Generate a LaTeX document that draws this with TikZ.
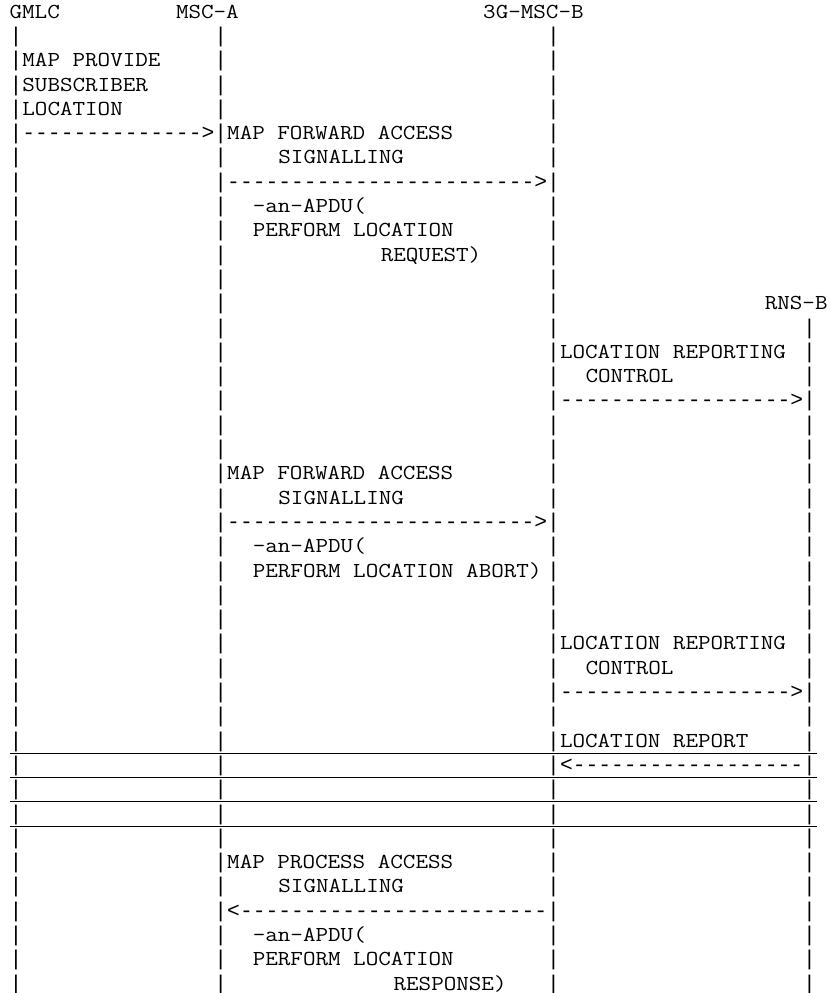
\documentclass[tikz,border=0pt]{standalone}
\usepackage{fontspec}
\setmonofont{Latin Modern Mono}[FakeStretch=1.143]
\newfontfamily\barfont{Liberation Mono}
% character grid: 12.8bp per column, 24.3bp per line
\newcommand\colx[1]{{9.6+12.8*(#1)}}
\newcommand\rowy[1]{{18.1+24.3*(#1)}}
\newcommand\cell[4]{\node[txt] (#1) at (\colx{#2},\rowy{#3}) {#4};}
\newcommand\arrowcell[4]{\node[lifebar] (#1) at (\colx{#2},\rowy{#3}) {#4};}
\begin{document}
\begin{tikzpicture}[x=1bp,y=-1bp,
  txt/.style={anchor=base west, inner sep=0pt, outer sep=0pt,
    font=\ttfamily\fontsize{21.33bp}{24.3bp}\selectfont},
  lifebar/.style={anchor=base west, inner sep=0pt, outer sep=0pt,
    font=\barfont\fontsize{21.33bp}{24.3bp}\selectfont},
  rule/.style={line width=1.1bp, black}]
\useasboundingbox (0,0) rectangle (830,993);

% entity headers
\cell{gmlc}{0}{0}{GMLC}
\cell{msca}{13}{0}{MSC-A}
\cell{mscb}{37}{0}{3G-MSC-B}
\cell{rnsb}{59}{12}{RNS-B}

% lifelines drawn as bar characters
\foreach \r in {1,...,40} {
  \node[lifebar] (gl\r) at (\colx{0},\rowy{\r}) {|};
  \node[lifebar] (al\r) at (\colx{16},\rowy{\r}) {|};
  \node[lifebar] (bl\r) at (\colx{42},\rowy{\r}) {|};
}
\foreach \r in {13,...,40} {
  \node[lifebar] (rl\r) at (\colx{62},\rowy{\r}) {|};
}

% GMLC -> MSC-A
\cell{m1a}{1}{2}{MAP PROVIDE}
\cell{m1b}{1}{3}{SUBSCRIBER}
\cell{m1c}{1}{4}{LOCATION}
\arrowcell{m1arr}{1}{5}{-------------->}

% MSC-A -> 3G-MSC-B (request)
\cell{m2a}{17}{5}{MAP FORWARD ACCESS}
\cell{m2b}{21}{6}{SIGNALLING}
\arrowcell{m2arr}{17}{7}{------------------------>}
\cell{m2c}{19}{8}{-an-APDU(}
\cell{m2d}{19}{9}{PERFORM LOCATION}
\cell{m2e}{29}{10}{REQUEST)}

% 3G-MSC-B -> RNS-B
\cell{m3a}{43}{14}{LOCATION REPORTING}
\cell{m3b}{45}{15}{CONTROL}
\arrowcell{m3arr}{43}{16}{------------------>}

% MSC-A -> 3G-MSC-B (abort)
\cell{m4a}{17}{19}{MAP FORWARD ACCESS}
\cell{m4b}{21}{20}{SIGNALLING}
\arrowcell{m4arr}{17}{21}{------------------------>}
\cell{m4c}{19}{22}{-an-APDU(}
\cell{m4d}{19}{23}{PERFORM LOCATION ABORT)}

% 3G-MSC-B -> RNS-B
\cell{m5a}{43}{26}{LOCATION REPORTING}
\cell{m5b}{45}{27}{CONTROL}
\arrowcell{m5arr}{43}{28}{------------------>}

% RNS-B -> 3G-MSC-B
\cell{m6a}{43}{30}{LOCATION REPORT}
\arrowcell{m6arr}{43}{31}{<------------------}

% horizontal rules across the chart
\foreach \r in {30,...,33} {
  \draw[rule] (10,{12+24.3*(\r+0.5)}) -- (817,{12+24.3*(\r+0.5)});
}

% 3G-MSC-B -> MSC-A (response)
\cell{m7a}{17}{35}{MAP PROCESS ACCESS}
\cell{m7b}{21}{36}{SIGNALLING}
\arrowcell{m7arr}{17}{37}{<------------------------}
\cell{m7c}{19}{38}{-an-APDU(}
\cell{m7d}{19}{39}{PERFORM LOCATION}
\cell{m7e}{30}{40}{RESPONSE)}
\end{tikzpicture}
\end{document}
